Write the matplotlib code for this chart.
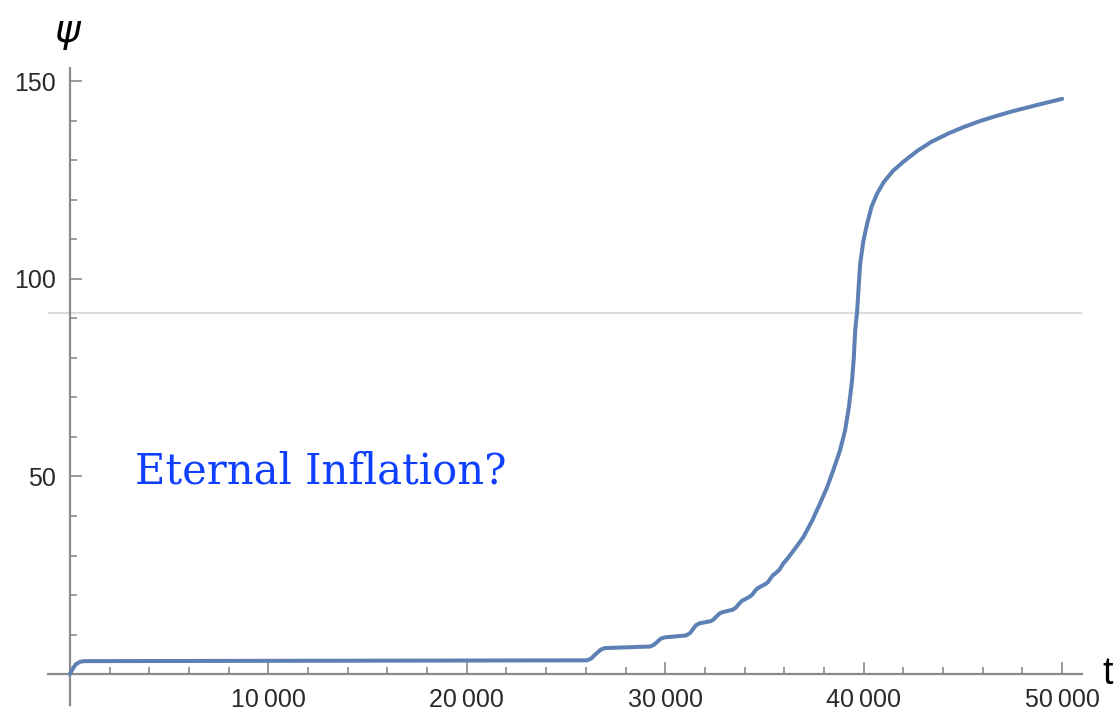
import matplotlib
matplotlib.use("Agg")
import matplotlib.pyplot as plt
from matplotlib.ticker import FixedLocator

# curve: t against psi
t = [0, 150, 300, 500, 700, 26050, 26250, 26500, 26750, 26950, 29250, 29450, 29600,
     29750, 29950, 31050, 31250, 31400, 31550, 31750, 32300, 32450, 32600, 32750,
     32900, 33400, 33550, 33700, 33850, 34000, 34250, 34380, 34500, 34620, 34750,
     35050, 35180, 35300, 35420, 35550, 35750, 35950, 36200, 36500, 36950, 37400,
     37800, 38150, 38460, 38800, 39060, 39250, 39410, 39500, 39570, 39670, 39820,
     39980, 40170, 40400, 40670, 41000, 41480, 42000, 42690, 43400, 44200, 45000,
     45870, 46700, 47530, 48700, 50000]
psi = [0, 1.4, 2.5, 3.1, 3.3, 3.5, 3.9, 5.1, 6.2, 6.6, 7.0, 7.5, 8.2,
       8.9, 9.3, 9.8, 10.4, 11.4, 12.4, 12.9, 13.4, 13.9, 14.7, 15.4,
       15.7, 16.3, 16.8, 17.7, 18.5, 18.9, 19.6, 20.1, 20.9, 21.6, 22.0,
       22.8, 23.3, 24.2, 25.0, 25.5, 26.4, 28.0, 29.5, 31.5, 34.6, 38.8,
       43.2, 47.2, 51.5, 56.5, 61.6, 67.5, 74.2, 80.0, 86.9, 92.0, 103.8,
       109.5, 113.9, 118.3, 121.5, 124.4, 127.3, 129.6, 132.3, 134.6, 136.6, 138.3,
       139.9, 141.2, 142.4, 143.9, 145.5]

threshold = 91.3

x_major = [10000, 20000, 30000, 40000, 50000]
x_labels = ["10\u2009000", "20\u2009000", "30\u2009000", "40\u2009000", "50\u2009000"]
x_minor = [v for v in range(2000, 50001, 2000) if v % 10000]
y_major = [50, 100, 150]
y_minor = [v for v in range(10, 150, 10) if v % 50]

axis_gray = "#8a8a8a"

fig = plt.figure(figsize=(11.17, 7.12), dpi=100)
ax = fig.add_axes([0.043, 0.0098, 0.9257, 0.8947])

ax.axhline(threshold, color="#dcdcdc", lw=1.5, zorder=1)
ax.plot(t, psi, color="#5e81b5", lw=2.9, zorder=3, solid_capstyle="round",
        solid_joinstyle="round")

ax.set_xlim(-1100, 51000)
ax.set_ylim(-7.8, 153.3)

for s in ["top", "right"]:
    ax.spines[s].set_visible(False)
ax.spines["left"].set_position(("data", 0))
ax.spines["bottom"].set_position(("data", 0))
for s in ["left", "bottom"]:
    ax.spines[s].set_color(axis_gray)
    ax.spines[s].set_linewidth(1.6)

ax.xaxis.set_major_locator(FixedLocator(x_major))
ax.xaxis.set_minor_locator(FixedLocator(x_minor))
ax.yaxis.set_major_locator(FixedLocator(y_major))
ax.yaxis.set_minor_locator(FixedLocator(y_minor))
ax.set_xticklabels(x_labels)

ax.tick_params(which="both", direction="in", color=axis_gray, width=1.2,
               labelcolor="#2a2a2a", labelsize=18)
ax.tick_params(which="major", length=8.5, pad=10)
ax.tick_params(which="minor", length=5)
for lab in ax.get_xticklabels() + ax.get_yticklabels():
    lab.set_family("Liberation Sans")

fig.text(0.061, 0.954, r"$\psi$", fontsize=28, ha="center", va="center")
fig.text(0.992, 0.053, "t", fontsize=27, family="Liberation Sans",
         ha="center", va="center")
fig.text(0.1209, 0.3216, "Eternal Inflation?", fontsize=30, family="DejaVu Serif",
         color="#1040ff", va="baseline")

fig.savefig("out.png", dpi=100)
